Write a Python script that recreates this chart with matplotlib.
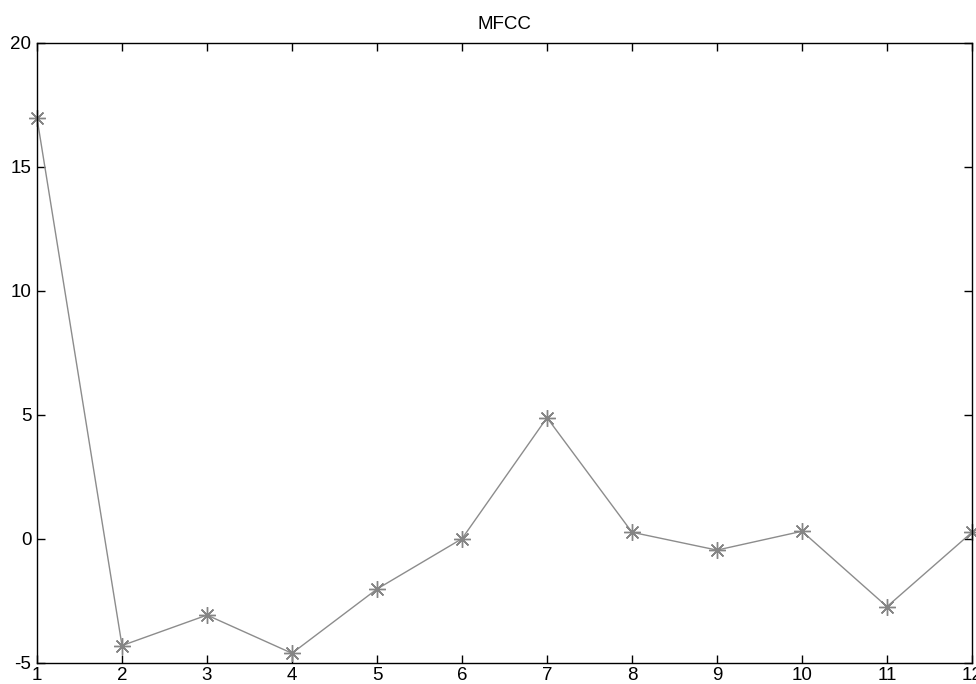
import matplotlib
matplotlib.use("Agg")
import matplotlib.pyplot as plt

coef_index = [1, 2, 3, 4, 5, 6, 7, 8, 9, 10, 11, 12]
mfcc_values = [16.96, -4.31, -3.08, -4.62, -2.03, 0.0, 4.88, 0.26, -0.46, 0.30, -2.74, 0.26]
x_ticks = list(range(1, 13))
y_ticks = [-5, 0, 5, 10, 15, 20]

plt.rcParams['font.family'] = ['Liberation Sans', 'DejaVu Sans']
plt.rcParams['axes.unicode_minus'] = False

fig = plt.figure(figsize=(9.76, 6.84), dpi=100)
W, H = 976, 684
left, right, top, bottom = 37, 972, 42.7, 662.7
ax = fig.add_axes([left / W, (H - bottom) / H, (right - left) / W, (bottom - top) / H])

ax.plot(coef_index, mfcc_values, color='#8c8c8c', linewidth=1.0,
        marker=(8, 2, 0), markersize=12, markeredgewidth=1.0,
        markeredgecolor='#858585', clip_on=False)

ax.set_xlim(1, 12)
ax.set_ylim(-5, 20)
ax.set_xticks(x_ticks)
ax.set_yticks(y_ticks)
ax.tick_params(direction='in', top=True, right=True, length=6, width=1,
               labelsize=13.5, pad=3, colors='black')
ax.tick_params(axis='y', pad=4)
for s in ax.spines.values():
    s.set_linewidth(1.0)
    s.set_color('black')
ax.set_title('MFCC', fontsize=13.5, pad=10)

fig.savefig('out.png', dpi=100)
